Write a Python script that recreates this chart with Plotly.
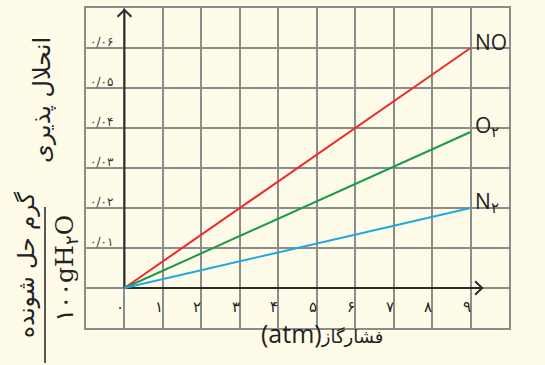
import plotly.graph_objs as go

# داده ها (حلالیت گاز بر حسب فشار)
pressure = [0, 9]
no_vals = [0, 0.06]
o2_vals = [0, 0.039]
n2_vals = [0, 0.02]

series_names = ["NO", "O<sub>۲</sub>", "N<sub>۲</sub>"]
series_colors = ["#ec2a2e", "#1b9a4a", "#1fa8e0"]

x_ticks = [0, 1, 2, 3, 4, 5, 6, 7, 8, 9]
x_ticktext = ["۰", "۱", "۲", "۳", "۴", "۵", "۶", "۷", "۸", "۹"]
y_ticks = [0.01, 0.02, 0.03, 0.04, 0.05, 0.06]
y_ticktext = ["۰/۰۱", "۰/۰۲", "۰/۰۳", "۰/۰۴", "۰/۰۵", "۰/۰۶"]

bg = "#fffbe9"
grid = "#8c8c8c"
axis_col = "#2b2b2b"
fa_font = "DejaVu Sans"

fig = go.Figure()

# خطوط محورها با فلش
x_end, y_end = 9.3, 0.0695
fig.add_trace(go.Scatter(x=[0, x_end], y=[0, 0], mode="lines",
                         line=dict(color=axis_col, width=2), hoverinfo="skip", showlegend=False))
fig.add_trace(go.Scatter(x=[0, 0], y=[0, y_end], mode="lines",
                         line=dict(color=axis_col, width=2), hoverinfo="skip", showlegend=False))
fig.add_trace(go.Scatter(x=[x_end - 0.18, x_end, x_end - 0.18], y=[0.0017, 0, -0.0017], mode="lines",
                         line=dict(color=axis_col, width=2), hoverinfo="skip", showlegend=False))
fig.add_trace(go.Scatter(x=[-0.18, 0, 0.18], y=[y_end - 0.0017, y_end, y_end - 0.0017], mode="lines",
                         line=dict(color=axis_col, width=2), hoverinfo="skip", showlegend=False))

# سری ها
for name, vals, col in zip(series_names, [no_vals, o2_vals, n2_vals], series_colors):
    fig.add_trace(go.Scatter(x=pressure, y=vals, mode="lines", name=name,
                             line=dict(color=col, width=2), showlegend=False))
    fig.add_annotation(x=pressure[-1], y=vals[-1], text=name, showarrow=False,
                       xanchor="left", yanchor="middle", xshift=2, yshift=6,
                       font=dict(family="Open Sans", size=21, color="#222"))

# برچسب های محور افقی
for v, t in zip(x_ticks, x_ticktext):
    fig.add_annotation(x=v, y=-0.0047, text=t, showarrow=False, xshift=-4,
                       xanchor="center", yanchor="middle",
                       font=dict(family=fa_font, size=15, color="#222"))

# برچسب های محور عمودی
for v, t in zip(y_ticks, y_ticktext):
    fig.add_annotation(x=-1, y=v, text=t, showarrow=False, xanchor="left", yanchor="bottom",
                       xshift=2, yshift=-3, font=dict(family=fa_font, size=12, color="#333"))

# عنوان محور افقی
fig.add_annotation(xref="paper", yref="paper", x=0.557, y=-0.016, showarrow=False,
                   xanchor="center", yanchor="middle",
                   text="(atm)<span style='font-size:18px'>فشارگاز</span>",
                   font=dict(family="Open Sans, DejaVu Sans", size=25, color="#222"))

# عنوان محور عمودی
title_parts = [
    ("انحلال پذیری", -0.104, 0.7125, fa_font, 24),
    ("گرم حل شونده", -0.1395, 0.197, fa_font, 23),
    ("۱۰۰gH<sub>۲</sub>O", -0.0473, 0.1875, "DejaVu Serif", 25),
]
for txt, px, py, fam, sz in title_parts:
    fig.add_annotation(xref="paper", yref="paper", x=px, y=py, textangle=-90, showarrow=False,
                       xanchor="center", yanchor="middle", text=txt,
                       font=dict(family=fam, size=sz, color="#222"))
fig.add_shape(type="line", xref="paper", yref="paper", x0=-0.0969, x1=-0.0969, y0=0.378, y1=-0.109,
              line=dict(color="#222", width=1.5))

fig.update_layout(
    width=545, height=365,
    margin=dict(l=86, r=36, t=8, b=37, autoexpand=False),
    paper_bgcolor=bg, plot_bgcolor=bg,
    xaxis=dict(range=[-1, 10], dtick=1, showgrid=True, gridcolor=grid, gridwidth=1.5,
               zeroline=False, showticklabels=False, showline=True, mirror=True,
               linecolor=grid, linewidth=1.5, fixedrange=True),
    yaxis=dict(range=[-0.01, 0.07], dtick=0.01, showgrid=True, gridcolor=grid, gridwidth=1.5,
               zeroline=False, showticklabels=False, showline=True, mirror=True,
               linecolor=grid, linewidth=1.5, fixedrange=True),
)

# بدون حاشیه پیش فرض صفحه
fig.write_html("out.html", config={"displayModeBar": False},
               post_script="document.body.style.margin='0';document.body.style.background='%s';" % bg)
